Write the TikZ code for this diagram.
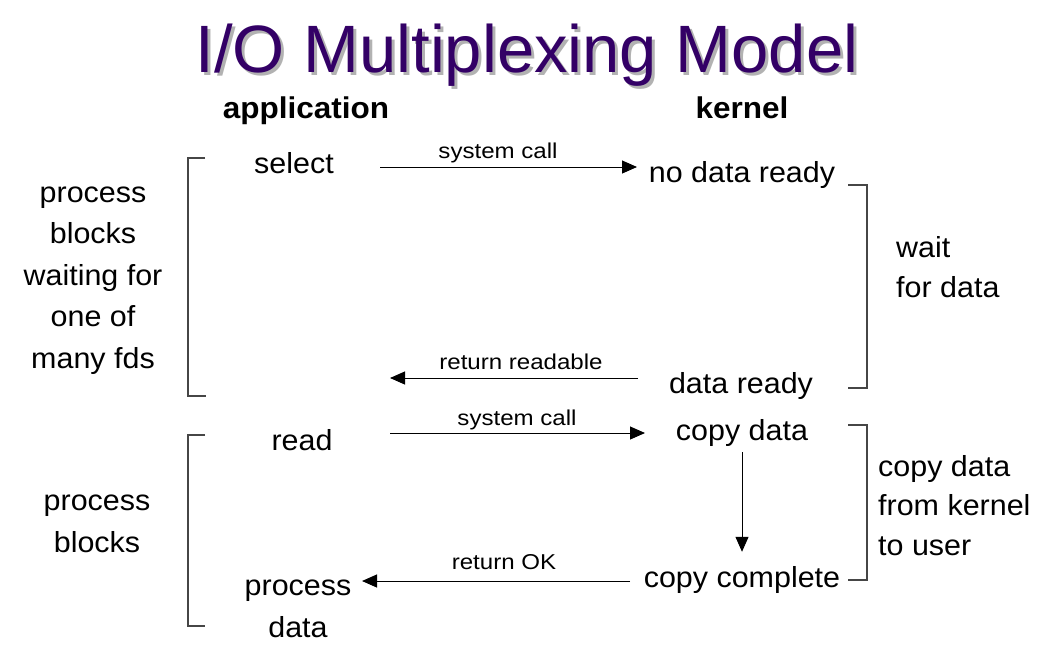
\documentclass[tikz,border=0pt]{standalone}
\usepackage{fontspec}
\setmainfont{Liberation Sans}[FakeStretch=1.05]
\newfontfamily\titlefont{Liberation Sans}
\newfontfamily\lblfont{Liberation Sans}[FakeStretch=1.12]
\usetikzlibrary{arrows.meta}
\definecolor{titlepurple}{RGB}{51,0,102}
\definecolor{brk}{RGB}{70,70,70}
\tikzset{
  maintext/.style={font=\fontsize{29}{41.5}\selectfont, inner sep=0pt, anchor=base, align=center},
  sidetext/.style={font=\fontsize{29}{39.5}\selectfont, inner sep=0pt, anchor=base west, align=left},
  lbl/.style={font=\lblfont\fontsize{21.5}{26}\selectfont, inner sep=0pt, anchor=base},
  hdr/.style={font=\bfseries\fontsize{30}{36}\selectfont, inner sep=0pt, anchor=base},
  titletext/.style={font=\titlefont\fontsize{67}{80}\selectfont, inner sep=0pt, anchor=base},
  arr/.style={-{Triangle[length=15pt,width=13pt]}, line width=1pt},
  brack/.style={draw=brk, line width=1.4pt}
}
\begin{document}
\begin{tikzpicture}[x=1pt,y=-1pt]
\useasboundingbox (0,0) rectangle (1051,654);
\fill[white] (0,0) rectangle (1051,654);
% title
\node[titletext, text=gray!60] (titleshadow) at (530,75) {I/O Multiplexing Model};
\node[titletext, text=titlepurple] (title) at (527,72) {I/O Multiplexing Model};
% headers
\node[hdr] (app) at (306,118) {application};
\node[hdr] (kern) at (742,118) {kernel};
% main nodes (base anchor = baseline of last line)
\node[maintext] (select) at (294,173) {select};
\node[maintext] (nodata) at (742,182) {no data ready};
\node[maintext] (dataready) at (741,393) {data ready};
\node[maintext] (read) at (302,450) {read};
\node[maintext] (copydata) at (742,440) {copy data};
\node[maintext] (copycomplete) at (742,587) {copy complete};
\node[maintext] (procdata) at (298,637) {process\\data};
% side texts
\node[maintext] (blockmany) at (93,368) {process\\blocks\\waiting for\\one of\\many fds};
\node[maintext] (blockread) at (97,552) {process\\blocks};
\node[sidetext] (wait) at (896,297) {wait\\for data};
\node[sidetext] (copyuser) at (878,555) {copy data\\from kernel\\to user};
% labels
\node[lbl] (sc1) at (498,158) {system call};
\node[lbl] (rr) at (521,369) {return readable};
\node[lbl] (sc2) at (517,425) {system call};
\node[lbl] (rok) at (504,569) {return OK};
% arrow end points
\coordinate (a1s) at (380,167);
\coordinate (a1e) at (637,167);
\coordinate (a2s) at (638,378);
\coordinate (a2e) at (390,378);
\coordinate (a3s) at (390,433);
\coordinate (a3e) at (645,433);
\coordinate (a4s) at (630,581);
\coordinate (a4e) at (362,581);
\draw[arr] (a1s) -- (a1e);
\draw[arr] (a2s) -- (a2e);
\draw[arr] (a3s) -- (a3e);
\draw[arr] (a4s) -- (a4e);
\draw[arr, shorten <=6pt, shorten >=14pt] (copydata) -- (copycomplete);
% brackets
\draw[brack] (205,158) -- (188,158) -- (188,396) -- (206,396);
\draw[brack] (205,435) -- (188,435) -- (188,626) -- (205,626);
\draw[brack] (848,185) -- (867,185) -- (867,388) -- (848,388);
\draw[brack] (848,425) -- (867,425) -- (867,580) -- (848,580);
\end{tikzpicture}
\end{document}
